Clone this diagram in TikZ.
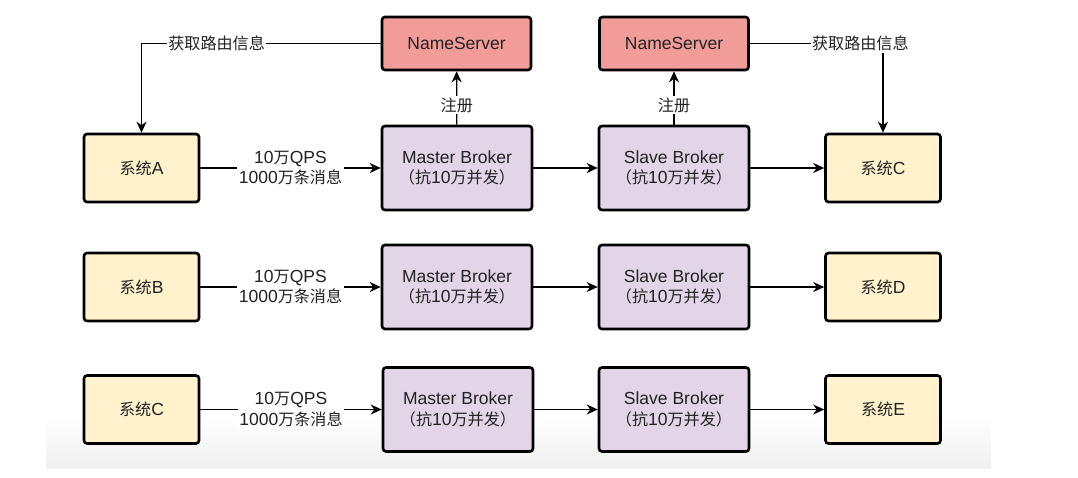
\documentclass[tikz,border=0pt]{standalone}
\usepackage{fontspec}
\setmainfont{Liberation Sans}
\newfontfamily\cjk[Scale=0.92]{Noto Sans CJK SC}
\newcommand{\zh}[1]{{\cjk #1}}
\usepackage{tikz}
\usetikzlibrary{arrows.meta}
\definecolor{sysfill}{HTML}{FFF2CC}
\definecolor{brokerfill}{HTML}{E1D5E7}
\definecolor{nsfill}{HTML}{F19C99}
\definecolor{txt}{HTML}{222222}

\begin{document}
\begin{tikzpicture}[x=1pt, y=-1pt, font=\fontsize{17.5}{20.5}\selectfont, text=txt]
\useasboundingbox (0,0) rectangle (1078,477);
\shade[top color=white, bottom color=black!6] (46,418) rectangle (991,468);

\begin{scope}[every node/.style={rectangle, rounded corners=3pt, line width=2.6pt, draw=black, align=center},
              sys/.style={fill=sysfill, minimum width=115pt, minimum height=68pt},
              broker/.style={fill=brokerfill, minimum width=150pt, minimum height=84pt},
              ns/.style={fill=nsfill, minimum width=149pt, minimum height=53pt}]
    \node[ns] (ns1) at (456.5,43.5) {NameServer};
    \node[ns] (ns2) at (674,43.5) {NameServer};
    % row 1
    \node[sys] (src1) at (141.5,168) {\zh{系统}A};
    \node[broker] (mb1) at (457,168) {Master Broker\\\zh{（抗}10\zh{万并发）}};
    \node[broker] (sb1) at (674,168) {Slave Broker\\\zh{（抗}10\zh{万并发）}};
    \node[sys] (dst1) at (883,168) {\zh{系统}C};
    % row 2
    \node[sys] (src2) at (141.5,287) {\zh{系统}B};
    \node[broker] (mb2) at (457,287) {Master Broker\\\zh{（抗}10\zh{万并发）}};
    \node[broker] (sb2) at (674,287) {Slave Broker\\\zh{（抗}10\zh{万并发）}};
    \node[sys] (dst2) at (883,287) {\zh{系统}D};
    % row 3
    \node[sys] (src3) at (141.5,409.5) {\zh{系统}C};
    \node[broker] (mb3) at (458,409.5) {Master Broker\\\zh{（抗}10\zh{万并发）}};
    \node[broker] (sb3) at (674,409.5) {Slave Broker\\\zh{（抗}10\zh{万并发）}};
    \node[sys] (dst3) at (883,409.5) {\zh{系统}E};
\end{scope}

\begin{scope}[>={Stealth[length=11pt, width=10pt, inset=3.5pt]},
              every node/.style={fill=white, align=center, inner sep=1.5pt},
              every edge/.style={draw=black, line width=1.3pt}]
    \path[->] (src1) edge node {10\zh{万}QPS\\1000\zh{万条消息}} (mb1);
    \path[->] (mb1) edge (sb1);
    \path[->] (sb1) edge (dst1);
    \path[->] (src2) edge node {10\zh{万}QPS\\1000\zh{万条消息}} (mb2);
    \path[->] (mb2) edge (sb2);
    \path[->] (sb2) edge (dst2);
    \path[->] (src3) edge node {10\zh{万}QPS\\1000\zh{万条消息}} (mb3);
    \path[->] (mb3) edge (sb3);
    \path[->] (sb3) edge (dst3);
    \path[->] (mb1) edge node[pos=0.37] {\zh{注册}} (ns1);
    \path[->] (sb1) edge node[pos=0.37] {\zh{注册}} (ns2);
    \draw[->, line width=1.3pt] (ns1) -| node[pos=0.343] {\zh{获取路由信息}} (src1);
    \draw[->, line width=1.3pt] (ns2) -| node[pos=0.415] {\zh{获取路由信息}} (dst1.north);
\end{scope}
\end{tikzpicture}
\end{document}
